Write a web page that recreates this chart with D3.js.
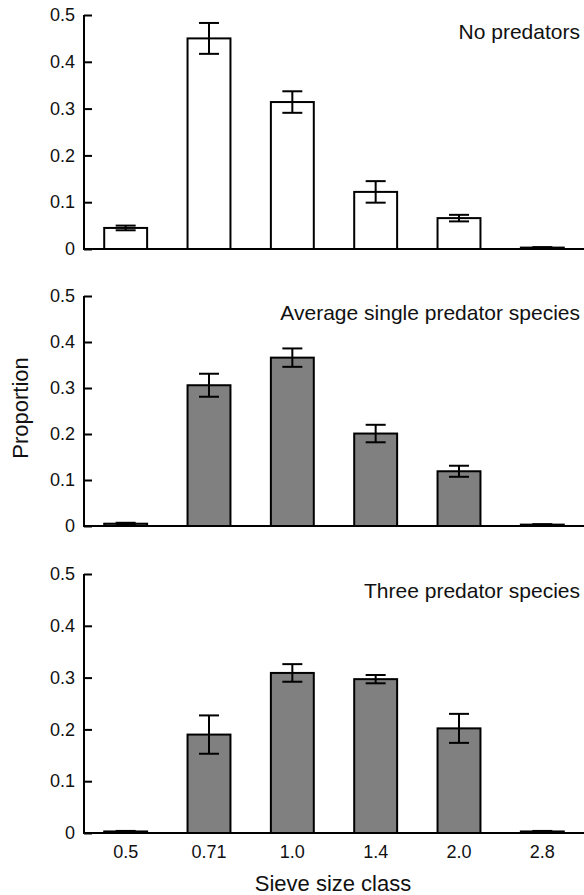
<!DOCTYPE html>
<html>
<head>
<meta charset="utf-8">
<script src="https://cdn.jsdelivr.net/npm/d3@7"></script>
<style>
  body { margin: 0; background: #fff; }
  svg text { font-family: "Liberation Sans", Arial, sans-serif; fill: #111; }
</style>
</head>
<body>
<div id="chart"></div>
<script>
// sieve size classes on the x axis
var sizeClasses = ["0.5", "0.71", "1.0", "1.4", "2.0", "2.8"];
var yTicks = [0, 0.1, 0.2, 0.3, 0.4, 0.5];

var panelTitles = ["No predators", "Average single predator species", "Three predator species"];
var panelFills = ["#ffffff", "#808080", "#808080"];

// proportions and error bar half widths, one array per panel
var noPredMean   = [0.045, 0.450, 0.314, 0.122, 0.066, 0.003];
var noPredErr    = [0.005, 0.033, 0.023, 0.023, 0.007, 0.001];
var singleMean   = [0.005, 0.306, 0.366, 0.201, 0.119, 0.003];
var singleErr    = [0.002, 0.025, 0.020, 0.019, 0.012, 0.001];
var threeMean    = [0.003, 0.190, 0.309, 0.297, 0.202, 0.003];
var threeErr     = [0.001, 0.037, 0.017, 0.008, 0.028, 0.001];

var means = [noPredMean, singleMean, threeMean];
var errs  = [noPredErr, singleErr, threeErr];

var width = 584, height = 895;
var left = 84, right = 584;
// top / bottom pixel of each panel's y range
var panelBox = [
  { top: 15,  bottom: 249 },
  { top: 296, bottom: 526 },
  { top: 574, bottom: 833 }
];

var svg = d3.select("#chart").append("svg")
    .attr("width", width)
    .attr("height", height);

var x = d3.scaleBand()
    .domain(sizeClasses)
    .range([left, right])
    .paddingInner(0.485)
    .paddingOuter(0.2425);

panelBox.forEach(function (box, p) {
  var y = d3.scaleLinear().domain([0, 0.5]).range([box.bottom, box.top]);
  var g = svg.append("g");

  var rows = sizeClasses.map(function (c, i) {
    return { cls: c, v: means[p][i], e: errs[p][i] };
  });

  // bars
  g.selectAll("rect.bar").data(rows).enter().append("rect")
      .attr("class", "bar")
      .attr("x", function (d) { return x(d.cls); })
      .attr("width", x.bandwidth())
      .attr("y", function (d) { return y(d.v); })
      .attr("height", function (d) { return y(0) - y(d.v); })
      .attr("fill", panelFills[p])
      .attr("stroke", "#000")
      .attr("stroke-width", 2);

  // error bars
  var cap = 10;
  var eb = g.selectAll("g.err").data(rows).enter().append("g").attr("class", "err");
  eb.append("line")
      .attr("x1", function (d) { return x(d.cls) + x.bandwidth() / 2; })
      .attr("x2", function (d) { return x(d.cls) + x.bandwidth() / 2; })
      .attr("y1", function (d) { return y(d.v + d.e); })
      .attr("y2", function (d) { return y(d.v - d.e); });
  eb.append("line")
      .attr("x1", function (d) { return x(d.cls) + x.bandwidth() / 2 - cap; })
      .attr("x2", function (d) { return x(d.cls) + x.bandwidth() / 2 + cap; })
      .attr("y1", function (d) { return y(d.v + d.e); })
      .attr("y2", function (d) { return y(d.v + d.e); });
  eb.append("line")
      .attr("x1", function (d) { return x(d.cls) + x.bandwidth() / 2 - cap; })
      .attr("x2", function (d) { return x(d.cls) + x.bandwidth() / 2 + cap; })
      .attr("y1", function (d) { return y(d.v - d.e); })
      .attr("y2", function (d) { return y(d.v - d.e); });
  eb.selectAll("line").attr("stroke", "#000").attr("stroke-width", 2);

  // y axis, ticks pointing inward
  var yAxis = g.append("g")
      .attr("transform", "translate(" + left + ",0)")
      .call(d3.axisRight(y).tickValues(yTicks).tickSize(8)
            .tickFormat(function (d) { return d === 0 ? "0" : d3.format(".1f")(d); }));
  yAxis.select(".domain").remove();
  yAxis.selectAll(".tick line").attr("stroke", "#000").attr("stroke-width", 2);
  yAxis.selectAll(".tick text")
      .attr("x", -9)
      .attr("text-anchor", "end")
      .style("font-size", "18px")
      .style("font-family", "'Liberation Sans', Arial, sans-serif")
      .attr("fill", "#111");

  g.append("line")
      .attr("x1", left).attr("x2", left)
      .attr("y1", y(0.5)).attr("y2", y(0) + 1)
      .attr("stroke", "#000").attr("stroke-width", 2);
  g.append("line")
      .attr("x1", left - 1).attr("x2", right)
      .attr("y1", y(0)).attr("y2", y(0))
      .attr("stroke", "#000").attr("stroke-width", 2);

  g.append("text")
      .attr("x", 580)
      .attr("y", box.top + 24)
      .attr("text-anchor", "end")
      .style("font-size", "21px")
      .text(panelTitles[p]);

  if (p === 2) {
    var xAxis = g.append("g")
        .attr("transform", "translate(0," + box.bottom + ")")
        .call(d3.axisBottom(x).tickSize(0).tickPadding(12));
    xAxis.select(".domain").remove();
    xAxis.selectAll(".tick text")
        .style("font-size", "18px")
        .style("font-family", "'Liberation Sans', Arial, sans-serif")
        .attr("fill", "#111");
  }
});

svg.append("text")
    .attr("x", 333)
    .attr("y", 891)
    .attr("text-anchor", "middle")
    .style("font-size", "22px")
    .text("Sieve size class");

svg.append("text")
    .attr("transform", "translate(28,408) rotate(-90)")
    .attr("text-anchor", "middle")
    .style("font-size", "22px")
    .text("Proportion");
</script>
</body>
</html>
